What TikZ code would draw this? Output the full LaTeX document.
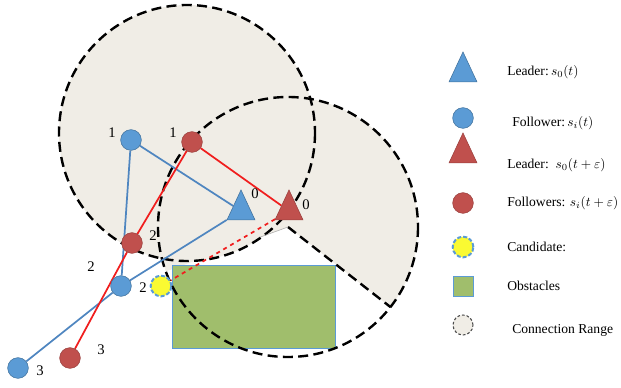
\documentclass[tikz,border=0pt]{standalone}
\usepackage{fontspec}
\setmainfont{Liberation Serif}
\usepackage{xcolor}
\definecolor{rangefill}{RGB}{240,237,230}
\definecolor{bluefill}{RGB}{91,155,213}
\definecolor{blueedge}{RGB}{65,113,156}
\definecolor{blueline}{RGB}{79,134,192}
\definecolor{redfill}{RGB}{192,80,77}
\definecolor{redline}{RGB}{240,30,30}
\definecolor{obstfill}{RGB}{160,190,108}
\definecolor{candfill}{RGB}{250,250,50}
\usetikzlibrary{shapes.geometric,positioning,backgrounds}

\begin{document}
\begin{tikzpicture}[x=0.75pt, y=-0.75pt,
	follower/.style={circle, minimum size=15.5pt, inner sep=0pt,
					fill=bluefill, draw=blueedge, line width=0.4pt},
	newfollower/.style={follower, fill=redfill, draw=redfill!80!black},
	leader/.style={isosceles triangle, isosceles triangle stretches, shape border rotate=90,
					minimum width=21pt, minimum height=22.5pt, inner sep=0pt,
					fill=bluefill, draw=blueedge, line width=0.4pt},
	newleader/.style={leader, fill=redfill, draw=redfill!80!black},
	candidate/.style={follower, fill=candfill, draw=bluefill, line width=1.5pt,
					dash pattern=on 3pt off 1.5pt},
	obstacle/.style={fill=obstfill, draw=bluefill, line width=0.5pt},
	rangeline/.style={draw=black, line width=1.8pt, dash pattern=on 7.5pt off 4pt},
	num/.style={font=\fontsize{11}{13}\selectfont, inner sep=1pt},
	legtext/.style={font=\fontsize{10.2}{12}\selectfont, anchor=west, inner sep=0pt},
	oldlink/.style={blueline, line width=1.3pt},
	newlink/.style={redline, line width=1.3pt}]
	\useasboundingbox (0,0) rectangle (621,388);

	% robots
	\node (fol1) [follower] at (131,140) {};
	\node (new1) [newfollower] at (192,142) {};
	\node (lead) [leader] at (241,211) {};
	\node (newlead) [newleader] at (289,211) {};
	\node (new2) [newfollower] at (132,243) {};
	\node (fol2) [follower] at (121,286) {};
	\node (cand) [candidate] at (161,286) {};
	\node (fol3) [follower] at (18,368) {};
	\node (new3) [newfollower] at (70,358) {};

	% hop numbers
	\node (n1a) [num] at (112,133) {1};
	\node (n1b) [num] at (173,133) {1};
	\node (n0a) [num] at (255,194) {0};
	\node (n0b) [num] at (306,205) {0};
	\node (n2a) [num] at (153,236) {2};
	\node (n2b) [num] at (91,267) {2};
	\node (n2c) [num] at (143,288) {2};
	\node (n3a) [num] at (101,350) {3};
	\node (n3b) [num] at (40,371) {3};

	% legend
	\node (kLead) [leader] at (463,73) {};
	\node (tLead) [legtext] at (507,72) {Leader:$\,s_0(t)$};
	\node (kFol) [follower] at (463,118) {};
	\node (tFol) [legtext] at (512,123) {Follower:$\,s_i(t)$};
	\node (kNewLead) [newleader] at (463,154) {};
	\node (tNewLead) [legtext] at (507,165) {Leader:\ \ $s_0(t+\varepsilon)$};
	\node (kNew) [newfollower] at (463,203) {};
	\node (tNew) [legtext] at (507,203) {Followers: $s_i(t+\varepsilon)$};
	\node (kCand) [candidate] at (463,247) {};
	\node (tCand) [legtext] at (507,247) {Candidate:};
	\node (kObst) [obstacle, minimum size=15pt, inner sep=0pt] at (463,286) {};
	\node (tObst) [legtext] at (507,286) {Obstacles};
	\node (kRange) [circle, minimum size=15pt, inner sep=0pt, fill=rangefill, draw=black!70,
					line width=0.8pt, dash pattern=on 2pt off 1.5pt] at (463,325) {};
	\node (tRange) [legtext] at (512,330) {Connection Range};

	\begin{scope}[on background layer]
		% connection ranges and obstacle
		\fill[rangefill] (187,133) circle[radius=128];
		\fill[rangefill] (288,227) -- ++(38:130) arc[start angle=38, end angle=-200, radius=130] -- cycle;
		\draw[obstacle] (172,265) rectangle (335,348);
		\draw[rangeline] (187,133) circle[radius=128];
		\draw[rangeline] (288,227) circle[radius=130];
		\draw[rangeline] (288,227) -- ++(38:130);
		\draw[black!35, line width=0.4pt] (288,227) -- ++(160:30);
		% links
		\draw[oldlink] (fol1) -- (lead);
		\draw[oldlink] (fol1) -- (fol2);
		\draw[oldlink] (lead) -- (fol2) -- (fol3);
		\draw[newlink] (new1) -- (newlead);
		\draw[newlink] (new1) -- (new2) -- (new3);
		\draw[newlink, dashed] (newlead) -- (cand);
	\end{scope}
\end{tikzpicture}
\end{document}
